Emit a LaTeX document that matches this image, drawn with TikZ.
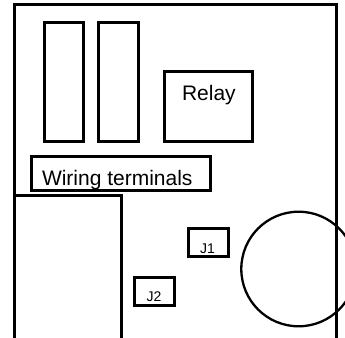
\documentclass[tikz,border=0pt]{standalone}
\usepackage{fontspec}
\setmainfont{Liberation Sans}
\usetikzlibrary{positioning}

\begin{document}
\begin{tikzpicture}[x=1pt,y=-1pt,line width=3pt]
	\tikzstyle{part}=[draw,rectangle,inner sep=0pt,outer sep=0pt,anchor=north west]
	\tikzstyle{fuse}=[part,minimum width=39.5pt,minimum height=118.5pt]
	\tikzstyle{jumper}=[part,line width=2.7pt,minimum width=40.4pt,minimum height=28pt]
	\tikzstyle{bigtext}=[inner sep=0pt,anchor=base west,font=\fontsize{21}{21}\selectfont]
	\tikzstyle{smalltext}=[inner sep=0pt,anchor=base west,font=\fontsize{14}{14}\selectfont]

	\useasboundingbox (0,0) rectangle (345,337);
	\clip (0,0) rectangle (345,337);

	% enclosure and the block at lower left, both run off the bottom
	\draw (14,340) -- (14,5) -- (336,5) -- (336,340);
	\draw (14,340) -- (14,195.7) -- (121.3,195.7) -- (121.3,340);

	\node[fuse] (fuseA) at (44,22.7) {};
	\node[fuse,right=15.2pt of fuseA] (fuseB) {};

	\node[part,minimum width=87.6pt,minimum height=70pt] (relay) at (164.7,71.3) {};
	\node[part,minimum width=179.4pt,minimum height=34.3pt] (terminals) at (31.3,156) {};

	\node[jumper] (jumperA) at (188.3,228.3) {};
	\node[jumper] (jumperB) at (134.3,277.3) {};

	\node[bigtext] (relayText) at (180.5,100) {Relay};
	\node[bigtext] (terminalsText) at (40.5,185) {Wiring terminals};
	\node[smalltext] (jumperAText) at (198.5,253) {J1};
	\node[smalltext] (jumperBText) at (145,301) {J2};

	\node[draw,circle,line width=2.3pt,inner sep=0pt,outer sep=0pt,minimum size=114.6pt] (meter) at (298.6,269) {};
\end{tikzpicture}
\end{document}
